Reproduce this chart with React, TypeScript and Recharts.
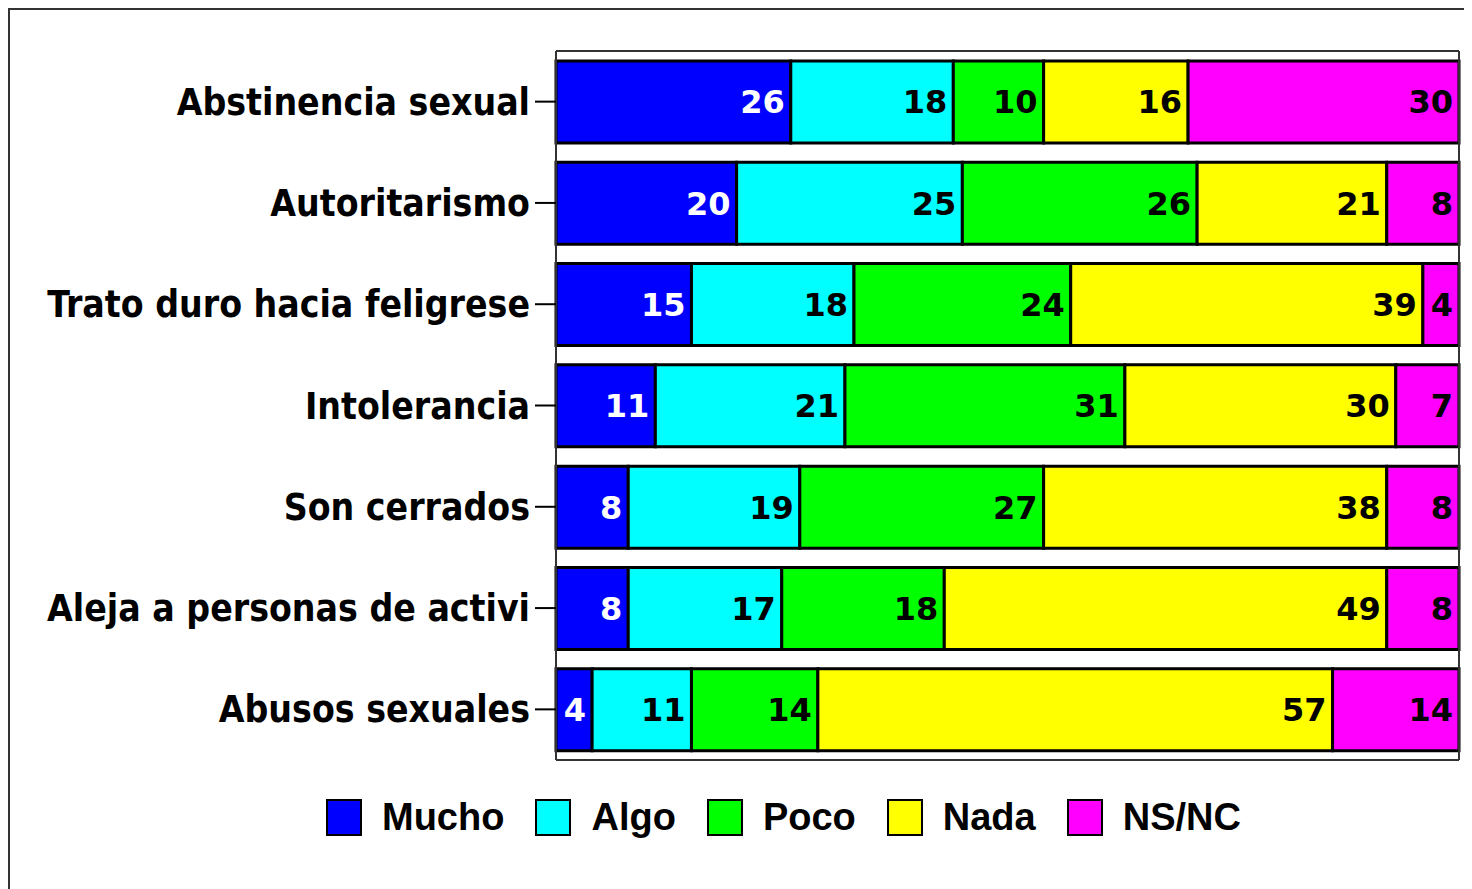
import React from "react";
import { BarChart, Bar, XAxis, YAxis, LabelList } from "recharts";

const categories = [
  "Abstinencia sexual",
  "Autoritarismo",
  "Trato duro hacia feligrese",
  "Intolerancia",
  "Son cerrados",
  "Aleja a personas de activi",
  "Abusos sexuales",
];
const mucho = [26, 20, 15, 11, 8, 8, 4];
const algo = [18, 25, 18, 21, 19, 17, 11];
const poco = [10, 26, 24, 31, 27, 18, 14];
const nada = [16, 21, 39, 30, 38, 49, 57];
const nsnc = [30, 8, 4, 7, 8, 8, 14];

const seriesNames = ["Mucho", "Algo", "Poco", "Nada", "NS/NC"];
const seriesKeys = ["mucho", "algo", "poco", "nada", "nsnc"];
const seriesColors = ["#0000FF", "#00FFFF", "#00FF00", "#FFFF00", "#FF00FF"];
const labelColors = ["#FFFFFF", "#000000", "#000000", "#000000", "#000000"];

const data = categories.map((name, i) => ({
  name,
  mucho: mucho[i],
  algo: algo[i],
  poco: poco[i],
  nada: nada[i],
  nsnc: nsnc[i],
}));

const yFont = "'DejaVu Sans Condensed', 'DejaVu Sans', sans-serif";
const labelFont = "'DejaVu Sans', sans-serif";

function LegendBox() {
  return (
    <div
      style={{
        position: "absolute",
        left: 316,
        top: 787,
        display: "flex",
        alignItems: "center",
        fontFamily: "'Liberation Sans', Arial, sans-serif",
        fontWeight: "bold",
        fontSize: 38,
        color: "#000",
      }}
    >
      {seriesNames.map((n, i) => (
        <div key={n} style={{ display: "flex", alignItems: "center", marginRight: 31 }}>
          <div
            style={{
              width: 36,
              height: 37,
              boxSizing: "border-box",
              border: "2px solid #000",
              background: seriesColors[i],
              marginRight: 20,
            }}
          />
          <span style={{ lineHeight: "40px" }}>{n}</span>
        </div>
      ))}
    </div>
  );
}

export default function App() {
  return (
    <div
      style={{
        position: "relative",
        width: 1462,
        height: 879,
        borderLeft: "2px solid #333",
        borderTop: "2px solid #333",
        background: "#fff",
        overflow: "hidden",
      }}
    >
      <BarChart
        width={1460}
        height={761}
        data={data}
        layout="vertical"
        margin={{ top: 40, right: 10, bottom: 10, left: 0 }}
        barSize={82}
      >
        <XAxis
          xAxisId="b"
          type="number"
          domain={[0, 100]}
          orientation="bottom"
          tick={false}
          tickLine={false}
          height={1}
          axisLine={{ stroke: "#333", strokeWidth: 2 }}
        />
        <XAxis
          xAxisId="t"
          type="number"
          domain={[0, 100]}
          orientation="top"
          tick={false}
          tickLine={false}
          height={1}
          axisLine={{ stroke: "#333", strokeWidth: 2 }}
        />
        <YAxis
          yAxisId="l"
          type="category"
          dataKey="name"
          width={546}
          tickSize={21}
          tickMargin={5}
          interval={0}
          axisLine={{ stroke: "#333", strokeWidth: 2 }}
          tickLine={{ stroke: "#000", strokeWidth: 2 }}
          tick={{ fill: "#000", fontSize: 37, fontWeight: "bold", fontFamily: yFont }}
        />
        <YAxis
          yAxisId="r"
          type="category"
          dataKey="name"
          orientation="right"
          width={1}
          tick={false}
          tickLine={false}
          axisLine={{ stroke: "#333", strokeWidth: 2 }}
        />
        {seriesKeys.map((k, i) => (
          <Bar
            key={k}
            dataKey={k}
            name={seriesNames[i]}
            stackId="s"
            xAxisId="b"
            yAxisId="l"
            fill={seriesColors[i]}
            stroke="#000"
            strokeWidth={3}
            isAnimationActive={false}
          >
            <LabelList
              dataKey={k}
              position="insideRight"
              offset={6}
              fill={labelColors[i]}
              style={{ fontSize: 32, fontWeight: "bold", fontFamily: labelFont }}
            />
          </Bar>
        ))}
      </BarChart>
      <LegendBox />
    </div>
  );
}
